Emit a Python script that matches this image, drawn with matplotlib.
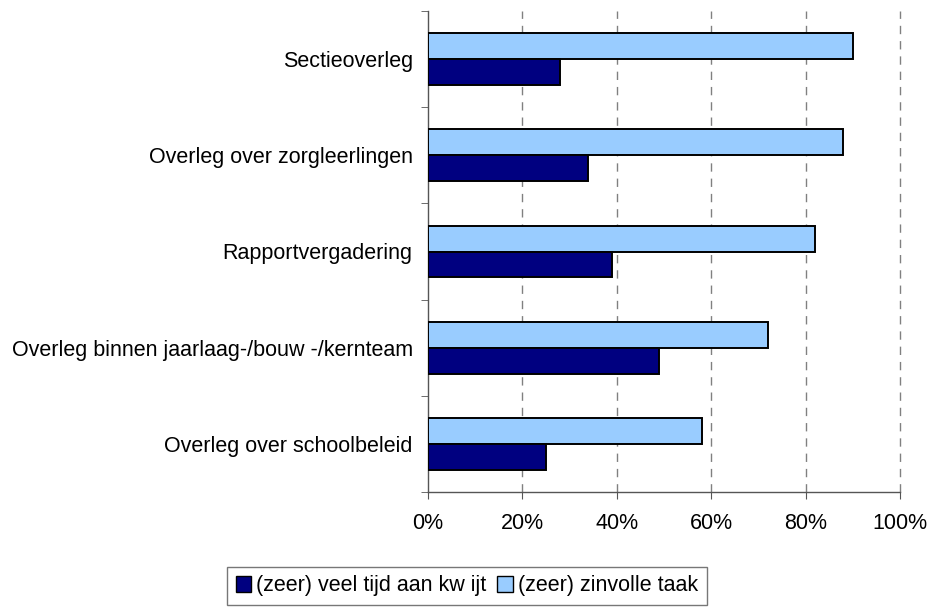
import numpy as np
import matplotlib.pyplot as plt
from matplotlib.patches import Patch

# categories top to bottom as in the chart
categories = [
    "Sectieoverleg",
    "Overleg over zorgleerlingen",
    "Rapportvergadering",
    "Overleg binnen jaarlaag-/bouw -/kernteam",
    "Overleg over schoolbeleid",
]
veel_tijd = [28, 34, 39, 49, 25]     # (zeer) veel tijd aan kwijt
zinvol = [90, 88, 82, 72, 58]        # (zeer) zinvolle taak
x_ticks = [0, 20, 40, 60, 80, 100]
x_labels = ["0%", "20%", "40%", "60%", "80%", "100%"]

dark = "#000080"
light = "#99CCFF"
fs = 15.5

plt.rcParams['font.family'] = ['Liberation Sans', 'DejaVu Sans']

fig = plt.figure(figsize=(9.33, 6.07), dpi=100)
ax = fig.add_axes([428 / 933, (607 - 492) / 607, 472 / 933, 481 / 607])

n = len(categories)
y = np.arange(n)[::-1].astype(float)  # top category highest
h = 0.27

ax.barh(y + h / 2, zinvol, height=h, color=light, edgecolor="black", linewidth=1.4, zorder=3)
ax.barh(y - h / 2, veel_tijd, height=h, color=dark, edgecolor="black", linewidth=1.4, zorder=3)

ax.set_xlim(0, 100)
ax.set_ylim(-0.5, n - 0.5)
ax.set_xticks(x_ticks)
ax.set_xticklabels(x_labels, fontsize=fs)

# category labels at centres, tick marks at boundaries
ax.set_yticks(y)
ax.set_yticklabels(categories, fontsize=fs)
ax.tick_params(axis="y", which="major", length=0, pad=11)
ax.set_yticks(np.arange(-0.5, n, 1.0), minor=True)
ax.tick_params(axis="y", which="minor", length=5, color="#555555", direction="out")
ax.tick_params(axis="x", length=5, color="#555555", direction="out", pad=10)

for gx in x_ticks[1:]:
    ax.axvline(gx, color="#808080", linestyle=(0, (6, 5)), linewidth=1, zorder=1, clip_on=False)

for s in ["top", "right"]:
    ax.spines[s].set_visible(False)
for s in ["left", "bottom"]:
    ax.spines[s].set_color("#555555")
    ax.spines[s].set_linewidth(1)

handles = [
    Patch(facecolor=dark, edgecolor="black", linewidth=1, label="(zeer) veel tijd aan kw ijt"),
    Patch(facecolor=light, edgecolor="black", linewidth=1, label="(zeer) zinvolle taak"),
]
leg = fig.legend(handles=handles, loc="center", bbox_to_anchor=(467 / 933, 1 - 586 / 607),
                 ncol=2, fontsize=fs, frameon=True, fancybox=False, handlelength=0.7,
                 handleheight=0.7, handletextpad=0.25, columnspacing=0.5, borderpad=0.4)
leg.get_frame().set_edgecolor("#555555")
leg.get_frame().set_linewidth(1)

fig.savefig("out.png", dpi=100)
